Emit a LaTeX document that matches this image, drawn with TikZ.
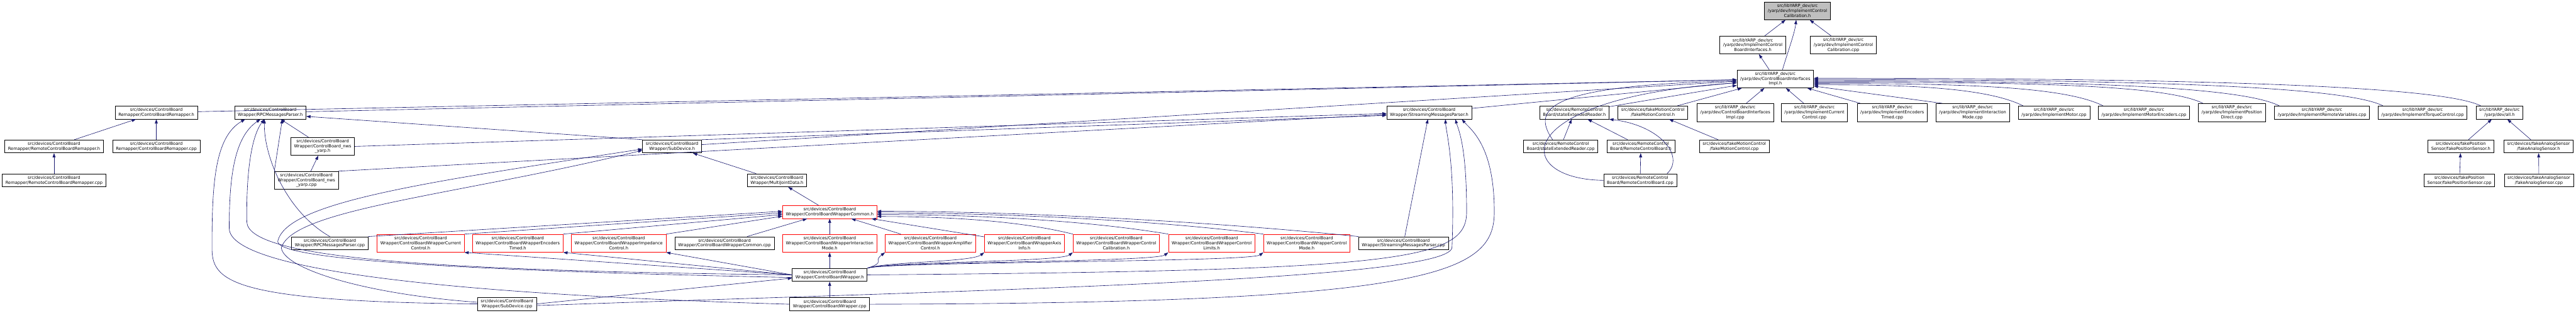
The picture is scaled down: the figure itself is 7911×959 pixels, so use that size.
\documentclass[tikz,border=0pt]{standalone}
\usepackage{fontspec}
\setmainfont{DejaVu Sans}
\usetikzlibrary{arrows.meta,positioning}
\definecolor{edgeblue}{HTML}{191970}
\definecolor{rootgray}{HTML}{BFBFBF}
\definecolor{truncred}{HTML}{FF0000}

\begin{document}
\begin{tikzpicture}[x=1pt, y=1pt,
  file/.style={draw=black, line width=1.3pt, fill=white, align=center,
    inner xsep=10pt, inner ysep=0pt, minimum height=40pt,
    font=\fontsize{12.9}{15}\selectfont},
  tall/.style={minimum height=55pt},
  trunc/.style={draw=truncred},
  rootfile/.style={fill=rootgray},
  edge/.style={draw=edgeblue, line width=1.2pt, -{Triangle[length=13pt,width=9pt]}}]
  \useasboundingbox[fill=white] (0,0) rectangle (7911,-959);

  % libYARP_dev headers
  \node[file,tall,rootfile] (root) at (5520,-33) {src/libYARP\_dev/src\\/yarp/dev/ImplementControl\\Calibration.h};
  \node[file,tall] (icbi_h) at (5383,-138) {src/libYARP\_dev/src\\/yarp/dev/ImplementControl\\BoardInterfaces.h};
  \node[file,tall] (icc_cpp) at (5661,-138) {src/libYARP\_dev/src\\/yarp/dev/ImplementControl\\Calibration.cpp};
  \node[file,tall] (cbii_h) at (5452,-242) {src/libYARP\_dev/src\\/yarp/dev/ControlBoardInterfaces\\Impl.h};

  % row 3
  \node[file] (cbr_h) at (480,-345) {src/devices/ControlBoard\\Remapper/ControlBoardRemapper.h};
  \node[file] (rpc_h) at (830,-345) {src/devices/ControlBoard\\Wrapper/RPCMessagesParser.h};
  \node[file] (smp_h) at (4389,-345) {src/devices/ControlBoard\\Wrapper/StreamingMessagesParser.h};
  \node[file] (ser_h) at (4835,-345) {src/devices/RemoteControl\\Board/stateExtendedReader.h};
  \node[file] (fmc_h) at (5076,-345) {src/devices/fakeMotionControl\\/fakeMotionControl.h};
  \node[file,tall] (cbii_cpp) at (5329,-345) {src/libYARP\_dev/src\\/yarp/dev/ControlBoardInterfaces\\Impl.cpp};
  \node[file,tall] (icur_cpp) at (5572,-345) {src/libYARP\_dev/src\\/yarp/dev/ImplementCurrent\\Control.cpp};
  \node[file,tall] (ienc_cpp) at (5811,-345) {src/libYARP\_dev/src\\/yarp/dev/ImplementEncoders\\Timed.cpp};
  \node[file,tall] (iint_cpp) at (6058,-345) {src/libYARP\_dev/src\\/yarp/dev/ImplementInteraction\\Mode.cpp};
  \node[file] (imot_cpp) at (6308,-345) {src/libYARP\_dev/src\\/yarp/dev/ImplementMotor.cpp};
  \node[file] (imenc_cpp) at (6584,-345) {src/libYARP\_dev/src\\/yarp/dev/ImplementMotorEncoders.cpp};
  \node[file,tall] (ipd_cpp) at (6854,-345) {src/libYARP\_dev/src\\/yarp/dev/ImplementPosition\\Direct.cpp};
  \node[file] (irv_cpp) at (7131,-345) {src/libYARP\_dev/src\\/yarp/dev/ImplementRemoteVariables.cpp};
  \node[file] (itq_cpp) at (7440,-345) {src/libYARP\_dev/src\\/yarp/dev/ImplementTorqueControl.cpp};
  \node[file] (all_h) at (7676,-345) {src/libYARP\_dev/src\\/yarp/dev/all.h};

  % row 4
  \node[file] (rcbr_h) at (166,-449) {src/devices/ControlBoard\\Remapper/RemoteControlBoardRemapper.h};
  \node[file] (cbr_cpp) at (480,-449) {src/devices/ControlBoard\\Remapper/ControlBoardRemapper.cpp};
  \node[file,tall] (nws_h) at (991,-449) {src/devices/ControlBoard\\Wrapper/ControlBoard\_nws\\\_yarp.h};
  \node[file] (sd_h) at (2064,-449) {src/devices/ControlBoard\\Wrapper/SubDevice.h};
  \node[file] (ser_cpp) at (4793,-449) {src/devices/RemoteControl\\Board/stateExtendedReader.cpp};
  \node[file] (rcb_h) at (5039,-449) {src/devices/RemoteControl\\Board/RemoteControlBoard.h};
  \node[file] (fmc_cpp) at (5326,-449) {src/devices/fakeMotionControl\\/fakeMotionControl.cpp};
  \node[file] (fps_h) at (7557,-449) {src/devices/fakePosition\\Sensor/fakePositionSensor.h};
  \node[file] (fas_h) at (7796,-449) {src/devices/fakeAnalogSensor\\/fakeAnalogSensor.h};

  % row 5
  \node[file] (rcbr_cpp) at (166,-553) {src/devices/ControlBoard\\Remapper/RemoteControlBoardRemapper.cpp};
  \node[file,tall] (nws_cpp) at (941,-553) {src/devices/ControlBoard\\Wrapper/ControlBoard\_nws\\\_yarp.cpp};
  \node[file] (mjd_h) at (2386,-553) {src/devices/ControlBoard\\Wrapper/MultiJointData.h};
  \node[file] (rcb_cpp) at (5037,-553) {src/devices/RemoteControl\\Board/RemoteControlBoard.cpp};
  \node[file] (fps_cpp) at (7553,-553) {src/devices/fakePosition\\Sensor/fakePositionSensor.cpp};
  \node[file] (fas_cpp) at (7797,-553) {src/devices/fakeAnalogSensor\\/fakeAnalogSensor.cpp};

  % row 6 and 7: wrapper parts
  \node[file,trunc] (cbwc_h) at (2548,-650) {src/devices/ControlBoard\\Wrapper/ControlBoardWrapperCommon.h};
  \node[file] (rpc_cpp) at (1013,-746) {src/devices/ControlBoard\\Wrapper/RPCMessagesParser.cpp};
  \node[file,tall,trunc] (cur_h) at (1292,-746) {src/devices/ControlBoard\\Wrapper/ControlBoardWrapperCurrent\\Control.h};
  \node[file,tall,trunc] (enc_h) at (1590,-746) {src/devices/ControlBoard\\Wrapper/ControlBoardWrapperEncoders\\Timed.h};
  \node[file,tall,trunc] (imp_h) at (1900,-746) {src/devices/ControlBoard\\Wrapper/ControlBoardWrapperImpedance\\Control.h};
  \node[file] (cbwc_cpp) at (2225,-746) {src/devices/ControlBoard\\Wrapper/ControlBoardWrapperCommon.cpp};
  \node[file,tall,trunc] (int_h) at (2548,-746) {src/devices/ControlBoard\\Wrapper/ControlBoardWrapperInteraction\\Mode.h};
  \node[file,tall,trunc] (amp_h) at (2857,-746) {src/devices/ControlBoard\\Wrapper/ControlBoardWrapperAmplifier\\Control.h};
  \node[file,tall,trunc] (axis_h) at (3146,-746) {src/devices/ControlBoard\\Wrapper/ControlBoardWrapperAxis\\Info.h};
  \node[file,tall,trunc] (cal_h) at (3428,-746) {src/devices/ControlBoard\\Wrapper/ControlBoardWrapperControl\\Calibration.h};
  \node[file,tall,trunc] (lim_h) at (3721,-746) {src/devices/ControlBoard\\Wrapper/ControlBoardWrapperControl\\Limits.h};
  \node[file,tall,trunc] (mode_h) at (4013,-746) {src/devices/ControlBoard\\Wrapper/ControlBoardWrapperControl\\Mode.h};
  \node[file] (smp_cpp) at (4310,-746) {src/devices/ControlBoard\\Wrapper/StreamingMessagesParser.cpp};

  % rows 8 and 9
  \node[file] (cbw_h) at (2548,-843) {src/devices/ControlBoard\\Wrapper/ControlBoardWrapper.h};
  \node[file] (sd_cpp) at (1557,-932) {src/devices/ControlBoard\\Wrapper/SubDevice.cpp};
  \node[file] (cbw_cpp) at (2548,-933) {src/devices/ControlBoard\\Wrapper/ControlBoardWrapper.cpp};

  % libYARP_dev edges
  \draw[edge] (icbi_h) -- (root);
  \draw[edge] (icc_cpp) -- (root);
  \draw[edge] ([xshift=22pt]cbii_h.north) .. controls (5490,-160) and (5512,-100) .. ([xshift=-4pt]root.south);
  \draw[edge] (cbii_h) -- (icbi_h);
  \foreach \n in {fmc_h, cbii_cpp, icur_cpp, ienc_cpp}
    \draw[edge] (\n) -- (cbii_h);
  \draw[edge] ([xshift=20pt]iint_cpp.north west) -- ([yshift=-22pt]cbii_h.east);
  \foreach \n/\dy/\c in {imot_cpp/-18/250, imenc_cpp/-14/450, ipd_cpp/-10/600,
      irv_cpp/-6/800, itq_cpp/-2/1000, all_h/2/1200}
    \draw[edge] ([xshift=15pt]\n.north west) .. controls +(-120,60) and +(\c,0) .. ([yshift=\dy pt]cbii_h.east);
  \draw[edge] (fmc_cpp) -- (fmc_h);
  \draw[edge] (fps_h) -- (all_h);
  \draw[edge] (fas_h) -- (all_h);
  \draw[edge] (fps_cpp) -- (fps_h);
  \draw[edge] (fas_cpp) -- (fas_h);

  % remote control board
  \draw[edge] (ser_h) -- (cbii_h);
  \draw[edge] (ser_cpp) -- (ser_h);
  \draw[edge] (rcb_h) -- (ser_h);
  \draw[edge] (rcb_cpp) -- (rcb_h);
  \draw[edge] ([xshift=-30pt]rcb_cpp.north east) .. controls (5175,-480) and (5100,-385) .. (ser_h.south east);
  \draw[edge] ([xshift=-25pt]ser_cpp.north) .. controls (4700,-330) and (4760,-262) .. ([yshift=-6pt]cbii_h.west);
  \draw[edge] (rcb_cpp.west) .. controls (4640,-550) and (4630,-300) .. ([yshift=-12pt]cbii_h.west);

  % remapper
  \draw[edge] (cbr_h) -- (cbii_h);
  \draw[edge] (rcbr_h) -- (cbr_h);
  \draw[edge] (cbr_cpp) -- (cbr_h);
  \draw[edge] (rcbr_cpp) -- (rcbr_h);

  % wrapper parsers
  \draw[edge] (rpc_h) -- (cbii_h);
  \draw[edge] (smp_h) -- (cbii_h);
  \draw[edge] (sd_h) -- (cbii_h);
  \draw[edge] (nws_h) -- (rpc_h);
  \draw[edge] (nws_cpp) -- (nws_h);
  \draw[edge] (nws_h.east) -- ([yshift=-3pt]smp_h.west);
  \draw[edge] (nws_cpp.north east) -- ([yshift=-6pt]smp_h.west);
  \draw[edge] (sd_h.north east) -- ([yshift=-9pt]smp_h.west);
  \draw[edge] (sd_h.north west) -- ([yshift=-12pt]rpc_h.east);
  \draw[edge] (nws_cpp.north west) -- ([xshift=37pt]rpc_h.south);
  \draw[edge] (rpc_cpp.north) .. controls (880,-650) and (810,-480) .. ([xshift=-18pt]rpc_h.south);
  \draw[edge] (mjd_h) -- (sd_h);
  \draw[edge] (cbwc_h) -- (mjd_h);
  \draw[edge] (smp_cpp) -- (smp_h);

  % wrapper common
  \draw[edge] (rpc_cpp.north east) -- ([yshift=2pt]cbwc_h.west);
  \draw[edge] (cur_h.north east) -- ([yshift=-3pt]cbwc_h.west);
  \draw[edge] (enc_h.north east) -- ([yshift=-8pt]cbwc_h.west);
  \draw[edge] (imp_h.north east) -- ([yshift=-13pt]cbwc_h.west);
  \foreach \n in {cbwc_cpp, int_h, amp_h, axis_h}
    \draw[edge] (\n) -- (cbwc_h);
  \foreach \n/\dy/\c in {cal_h/-14/180, lim_h/-8/270, mode_h/-3/350, smp_cpp/2/440}
    \draw[edge] (\n.north west) .. controls +(-\c,45) and +(\c,0) .. ([yshift=\dy pt]cbwc_h.east);

  % wrapper and subdevice sources
  \foreach \n in {cur_h, enc_h, imp_h}
    \draw[edge] (cbw_h.west) -- (\n.south east);
  \draw[edge] (cbw_h) -- (int_h);
  \foreach \n in {amp_h, axis_h, cal_h, lim_h, mode_h}
    \draw[edge] (cbw_h.north east) .. controls +(60,20) and +(-40,-30) .. (\n.south west);
  \draw[edge] (cbw_cpp) -- (cbw_h);
  \draw[edge] (sd_cpp.east) -- ([yshift=-10pt]cbw_h.west);
  \draw[edge] (sd_cpp.west) .. controls (700,-925) and (651,-860) .. (651,-760)
    .. controls (651,-560) and (660,-420) .. ([xshift=-77pt]rpc_h.south);
  \draw[edge] (cbw_cpp.west) .. controls (1300,-900) and (704,-820) .. (704,-700)
    .. controls (704,-540) and (720,-420) .. ([xshift=-30pt]rpc_h.south);
  \draw[edge] (cbw_h.west) .. controls (1300,-830) and (760,-790) .. (758,-680)
    .. controls (756,-540) and (770,-420) .. ([xshift=-18pt]rpc_h.south);
  \draw[edge] ([yshift=-8pt]cbw_h.west) .. controls (1300,-828) and (850,-790) .. (853,-740)
    .. controls (880,-620) and (1300,-560) .. ([yshift=-8pt]sd_h.west);
  \draw[edge] ([yshift=5pt]sd_cpp.west) .. controls (1100,-900) and (870,-820) .. (864,-760)
    .. controls (900,-640) and (1400,-600) .. ([yshift=-12pt]sd_h.west);
  \draw[edge] ([yshift=-5pt]sd_cpp.east) .. controls (3000,-890) and (4440,-860) .. (4459,-760)
    .. controls (4470,-500) and (4440,-400) .. ([xshift=50pt]smp_h.south);
  \draw[edge] (cbw_h.east) .. controls (4300,-830) and (4504,-800) .. (4504,-650)
    .. controls (4504,-450) and (4480,-400) .. ([xshift=80pt]smp_h.south);
  \draw[edge] (cbw_cpp.east) .. controls (4400,-930) and (4589,-840) .. (4589,-650)
    .. controls (4589,-450) and (4520,-400) .. ([xshift=100pt]smp_h.south);
\end{tikzpicture}
\end{document}
